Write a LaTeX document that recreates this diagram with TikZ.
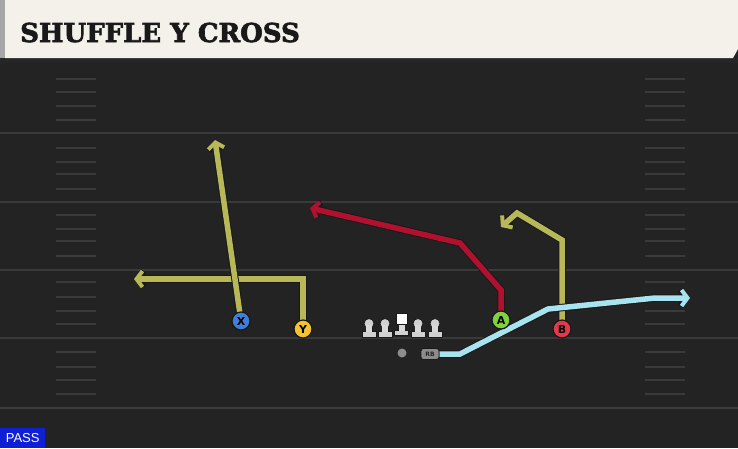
\documentclass[tikz,border=0pt]{standalone}
\usepackage{fontspec}
\newfontfamily\titlefont{DejaVu Serif}[BoldFeatures={FakeBold=2.5}]
\newfontfamily\labelfont{DejaVu Sans}
\newfontfamily\tagfont{Liberation Sans}
\usetikzlibrary{arrows.meta, positioning}
\definecolor{campo}{HTML}{232323}
\definecolor{cabecera}{HTML}{F4F1EA}
\definecolor{lineayarda}{HTML}{3A3A3A}
\definecolor{oliva}{HTML}{B9B858}
\definecolor{rojo}{HTML}{B2102F}
\definecolor{celeste}{HTML}{A8E4F0}
\definecolor{azulX}{HTML}{3F7FDC}
\definecolor{amarilloY}{HTML}{F3C331}
\definecolor{verdeA}{HTML}{80D23C}
\definecolor{rojoB}{HTML}{E23A4B}
\definecolor{azulpase}{HTML}{0E1FD6}
\pgfdeclarelayer{fondo}
\pgfdeclarelayer{rutas}
\pgfsetlayers{fondo,rutas,main}
\tikzset{
    ruta/.style = {line width=5.5pt, line join=miter,
                   -{Straight Barb[length=6pt,width=16pt,line width=4pt]},
                   preaction={draw=black!90, line width=7.5pt,
                              -{Straight Barb[length=6pt,width=16pt,line width=6pt]}}},
    jugador/.style = {circle, draw=black!90, line width=1.2pt, minimum size=18pt, inner sep=0pt,
                      font=\labelfont\bfseries\fontsize{11}{11}\selectfont},
    yarda/.style = {draw=lineayarda, line width=2pt},
    marca/.style = {draw=lineayarda, line width=1.5pt},
    liniero/.style = {fill=black!18, draw=black!90, line width=0.8pt}
}

\begin{document}
\begin{tikzpicture}[x=1pt, y=-1pt]
    \useasboundingbox (0,0) rectangle (738,448);
    % Campo
    \begin{pgfonlayer}{fondo}
    \fill[campo] (0,0) rectangle (738,448);
    \foreach \y in {133,202,270,338,408}
        \draw[yarda] (0,\y) -- (738,\y);
    \foreach \y in {79,92,106,120,148,162,174,189,215,229,241,256,282,297,311,324,352,367,380,394} {
        \draw[marca] (56,\y) -- (96,\y);
        \draw[marca] (645,\y) -- (685,\y);
    }
    \end{pgfonlayer}

    % Cabecera
    \fill[black!85] (0,58) rectangle (738,63);
    \fill[cabecera] (5,0) -- (738,0) -- (738,49) -- (733,58) -- (5,58) -- cycle;
    \fill[black!35] (0,0) rectangle (5,58);
    \node[anchor=base west, inner sep=0pt, text=black!90,
          font=\titlefont\bfseries\fontsize{26}{26}\selectfont] (titulo) at (20,42) {SHUFFLE Y CROSS};

    % Jugadores
    \node[jugador, fill=azulX] (X) at (241,321) {X};
    \node[jugador, fill=amarilloY] (Y) at (303,329) {Y};
    \node[jugador, fill=verdeA] (A) at (501,320) {A};
    \node[jugador, fill=rojoB] (B) at (562,329) {B};
    \node[fill=black!45, draw=black!90, line width=0.8pt, rounded corners=2.5pt, minimum width=18pt,
          minimum height=11pt, inner sep=0pt, font=\labelfont\bfseries\fontsize{6}{6}\selectfont,
          text=black!85] (RB) at (430,354) {RB};
    \node[circle, fill=black!45, minimum size=9pt, inner sep=0pt] (QB) at (402,353) {};

    % Puntos de las rutas
    \coordinate (xfin) at (215,140);
    \coordinate (yq) at (303,279);
    \coordinate (yfin) at (134,279);
    \coordinate (aq) at (501,290);
    \coordinate (aq2) at (460,243);
    \coordinate (afin) at (310,208);
    \coordinate (bq) at (562,240);
    \coordinate (bq2) at (517,213);
    \coordinate (bfin) at (501,227);
    \coordinate (rq) at (460,354);
    \coordinate (rq2) at (548,309);
    \coordinate (rq3) at (655,298);
    \coordinate (rfin) at (690,298);

    % Rutas
    \begin{pgfonlayer}{rutas}
    \draw[ruta, oliva] (Y.center) -- (yq) -- (yfin);
    \draw[ruta, oliva] (X.center) -- (xfin);
    \draw[ruta, rojo] (A.center) -- (aq) -- (aq2) -- (afin);
    \draw[ruta, oliva] (B.center) -- (bq) -- (bq2) -- (bfin);
    \draw[ruta, celeste] (RB.east) -- (rq) -- (rq2) -- (rq3) -- (rfin);
    \end{pgfonlayer}

    % Linea ofensiva
    \foreach \cx in {369,385,418,435} {
        \fill[liniero] (\cx-7,331) rectangle (\cx+7,337.5);
        \fill[liniero] (\cx-3,325) rectangle (\cx+3,331);
        \fill[liniero] (\cx,323.5) circle (5);
        \fill[black!15] (\cx-3,325) rectangle (\cx+3,332);
    }
    \fill[liniero] (394.5,330) rectangle (408.5,335.5);
    \fill[liniero] (398.5,324) rectangle (404.5,330);
    \fill[black!15] (398.5,324) rectangle (404.5,331);
    \fill[white, draw=black!90, line width=0.8pt] (396,313) rectangle (407,324);

    % Etiqueta
    \node[anchor=south west, fill=azulpase, text=white, minimum width=45pt, minimum height=20pt,
          inner sep=0pt, font=\tagfont\fontsize{13}{13}\selectfont] (pase) at (0,448) {PASS};
\end{tikzpicture}
\end{document}
